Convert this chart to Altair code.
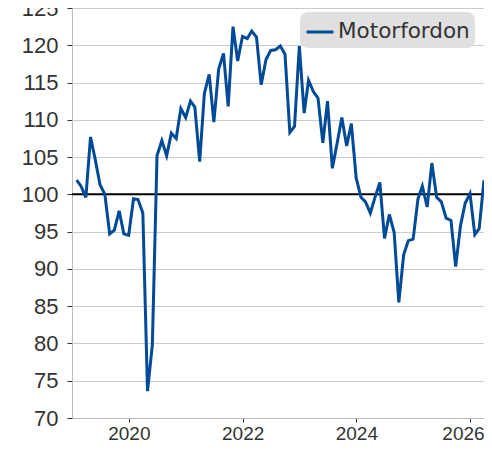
import altair as alt
import pandas as pd

# Monthly index values (month-end), Jan 2019 .. Mar 2026
values = [101.9, 101.1, 99.6, 107.7, 104.6, 101.3, 100.0, 94.7, 95.2, 97.8,
          94.7, 94.5, 99.4, 99.3, 97.5, 73.6, 79.8, 105.2, 107.2, 105.2,
          108.2, 107.5, 111.5, 110.3, 112.5, 111.7, 104.4, 113.5, 116.1, 109.7,
          116.8, 118.9, 111.8, 122.5, 117.9, 121.2, 120.9, 121.9, 121.1, 114.7,
          118.1, 119.3, 119.4, 119.9, 118.8, 108.3, 109.1, 119.9, 110.9, 115.3,
          113.8, 112.9, 106.9, 112.5, 103.5, 106.9, 110.3, 106.5, 109.5, 102.2,
          99.6, 99.0, 97.5, 99.6, 101.6, 94.1, 97.3, 94.9, 85.5, 91.9,
          93.8, 94.0, 99.4, 101.1, 98.3, 104.2, 99.6, 99.0, 96.8, 96.5,
          90.3, 95.8, 98.8, 100.1, 94.6, 95.4, 101.9]
series_name = "Motorfordon"
start_month = "2019-01-31"
y_ticks = [70, 75, 80, 85, 90, 95, 100, 105, 110, 115, 120, 125]
x_tick_years = [2020, 2022, 2024, 2026]
reference_level = [100]

dates = pd.date_range(start_month, periods=len(values),
                      freq=pd.offsets.MonthEnd()).strftime("%Y-%m-%dT00:00:00")
df = pd.DataFrame({"date": list(dates), "value": values, "series": series_name})
ref_df = pd.DataFrame({"y": reference_level})

LINE_COLOR = "#004A98"
AXIS_FONT = "Liberation Sans"

x_enc = alt.X(
    "date:T",
    title=None,
    scale=alt.Scale(domain=[alt.DateTime(year=2019, month=1, date=1),
                            alt.DateTime(year=2026, month=3, date=31)]),
    axis=alt.Axis(values=[alt.DateTime(year=y, month=1, date=1) for y in x_tick_years],
                  format="%Y", grid=False, domainColor="#bbbbbb", tickColor="#333333",
                  tickSize=4, labelPadding=2, labelFontSize=19, labelFont=AXIS_FONT,
                  labelColor="#333333", labelFlush=20, labelFlushOffset=14),
)
y_scale = alt.Scale(domain=[70, 125], nice=False, zero=False)
y_axis = alt.Axis(values=y_ticks, grid=True, gridColor="#cccccc", domainColor="#bbbbbb",
                  tickColor="#333333", tickSize=5, labelPadding=9, labelFontSize=22,
                  labelFont=AXIS_FONT, labelColor="#333333")

rule = alt.Chart(ref_df).mark_rule(color="black", strokeWidth=2).encode(
    y=alt.Y("y:Q", scale=y_scale, axis=y_axis, title=None)
)

line = alt.Chart(df).mark_line(strokeWidth=3).encode(
    x=x_enc,
    y=alt.Y("value:Q", scale=y_scale, axis=y_axis, title=None),
    color=alt.Color("series:N", scale=alt.Scale(range=[LINE_COLOR]),
                    legend=alt.Legend(title=None, orient="none", legendX=228, legendY=4,
                                      fillColor="#e0e0e0", cornerRadius=8, padding=5,
                                      symbolType="stroke", symbolStrokeWidth=3,
                                      symbolSize=729, labelOffset=3,
                                      labelFontSize=21.5, labelFont="DejaVu Sans",
                                      labelColor="#333333")),
)

chart = alt.layer(rule, line).properties(
    width=412,
    height=410,
    autosize=alt.AutoSizeParams(type="none"),
    padding={"left": 64, "top": 0, "right": 0, "bottom": 24},
).configure_view(stroke="transparent")

chart.save("out.html", embed_options={"renderer": "svg", "actions": False})
